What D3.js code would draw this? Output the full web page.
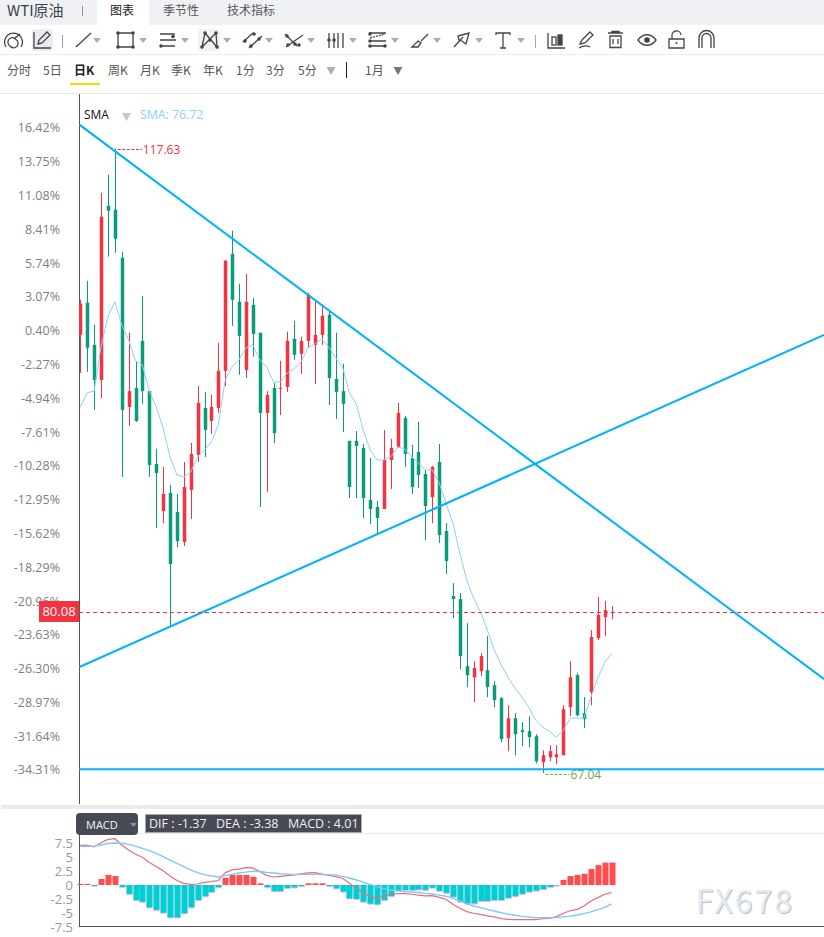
<!DOCTYPE html>
<html>
<head>
<meta charset="utf-8">
<script src="https://cdn.jsdelivr.net/npm/d3@7"></script>
<style>
  html, body { margin: 0; padding: 0; background: #fff; }
  svg { display: block; }
  text { font-family: "Noto Sans CJK SC", "Noto Sans", sans-serif; }
  .latin { font-family: "Open Sans", "Noto Sans", sans-serif; }
</style>
</head>
<body>
<svg id="chart" width="824" height="937"></svg>
<script>
// WTI daily candles (USD)
const opens = [102.54,105.14,101.73,98.89,113.00,112.68,108.79,96.70,98.24,102.05,
  97.98,92.08,88.27,89.73,88.19,85.76,89.97,92.81,96.62,95.57,
  96.62,99.62,109.11,105.22,99.70,104.97,102.71,96.22,98.24,98.16,
  98.32,102.22,101.00,102.05,101.73,102.54,104.16,98.97,97.98,93.95,
  93.95,93.38,89.16,88.59,88.43,92.40,93.46,95.81,92.57,93.05,
  91.27,89.40,92.24,86.64,81.38,81.13,75.70,74.80,75.29,75.37,
  74.16,73.10,69.86,71.48,70.51,70.43,70.02,67.91,68.32,68.32,
  68.48,72.37,74.97,71.89,73.59,77.97,79.67,80.00];
const highs = [105.38,106.92,103.35,114.06,115.52,117.63,109.27,102.71,100.43,105.70,
  98.00,93.30,91.84,90.38,89.65,92.24,93.78,98.40,97.92,97.68,
  101.89,108.62,110.98,106.68,107.49,105.54,102.71,97.98,98.65,100.43,
  102.79,103.68,102.38,105.95,105.30,104.97,104.57,102.71,100.19,93.95,
  94.75,93.70,92.57,89.08,94.84,94.11,97.03,95.97,93.62,95.49,
  91.59,91.92,93.70,87.29,82.43,81.62,79.18,76.10,76.75,78.13,
  74.48,73.19,72.53,71.89,71.16,71.64,70.18,68.88,69.29,69.29,
  72.53,76.10,75.13,73.19,78.62,81.29,80.97,80.56];
const lows = [99.46,99.54,96.46,97.43,108.87,109.19,91.03,95.16,95.49,96.95,
  91.03,86.89,87.29,78.86,85.35,85.43,87.62,92.24,92.65,94.51,
  96.22,98.40,103.27,99.30,99.05,100.76,88.59,89.81,93.78,96.05,
  97.92,100.51,99.38,101.49,98.57,101.73,96.86,95.73,94.67,89.32,
  89.32,87.70,87.21,86.40,88.43,90.05,93.38,91.84,89.65,90.13,
  85.92,87.29,85.68,83.16,79.59,75.45,74.00,72.78,74.89,73.19,
  72.37,69.53,68.80,68.48,69.21,69.13,67.83,67.04,67.99,67.75,
  68.48,71.64,71.64,70.67,72.53,77.81,78.13,79.51];
const closes = [105.06,101.49,98.89,112.11,112.60,110.33,96.46,97.98,95.57,97.98,
  92.00,91.35,89.65,83.97,85.84,90.21,92.89,97.03,94.84,96.70,
  99.62,108.54,105.38,102.46,105.22,102.62,96.22,97.67,94.59,98.24,
  102.05,100.92,102.05,105.79,102.54,104.08,99.05,97.92,96.95,90.21,
  93.54,89.32,88.43,87.70,92.40,93.38,96.22,92.89,90.21,91.19,
  88.67,91.84,86.32,84.21,81.13,76.51,74.97,75.54,76.51,74.00,
  72.94,69.78,71.48,70.18,70.35,69.94,67.99,68.48,68.80,68.56,
  72.21,74.80,71.72,71.40,78.05,79.84,80.24,80.08];
const sma = [96.70,97.84,97.98,101.57,104.00,105.22,103.35,102.13,100.43,100.11,
  97.98,96.70,95.00,92.65,91.19,91.03,91.43,92.65,93.22,93.86,
  95.24,98.89,99.95,100.51,101.49,101.73,100.51,99.95,98.73,98.73,
  99.46,99.78,100.35,101.49,101.81,102.22,101.57,100.68,99.95,97.84,
  96.95,94.84,93.22,92.40,92.40,92.65,93.46,93.30,92.65,92.16,
  91.59,91.59,90.54,88.92,87.29,84.86,82.67,81.21,80.08,78.62,
  77.00,75.78,74.80,73.91,73.19,72.37,71.32,70.75,70.43,69.94,
  70.51,71.48,71.48,71.48,73.19,74.72,76.01,76.72];

// MACD pane
const dif = [7.08,7.08,6.8,7.55,8.15,8.27,7.15,6.25,5.5,4.95,
  4.0,3.3,2.55,1.6,0.8,0.3,0.12,0.18,0.48,0.6,
  0.8,2.2,2.7,2.85,3.1,3.05,2.4,1.73,1.43,1.55,
  1.67,1.8,2.0,2.15,2.2,1.97,1.75,1.5,1.2,0.3,
  -0.6,-1.35,-2.1,-2.4,-2.0,-1.65,-1.55,-1.55,-1.65,-1.8,
  -1.95,-1.9,-2.2,-2.55,-3.45,-4.15,-4.75,-5.05,-5.25,-5.5,
  -5.7,-6.0,-6.15,-6.2,-6.2,-6.2,-6.2,-6.0,-5.95,-5.65,
  -5.05,-4.6,-4.35,-3.75,-2.85,-2.25,-1.65,-1.37];
const dea = [6.9,6.9,6.95,7.15,7.4,7.5,7.45,7.25,6.95,6.55,
  6.15,5.65,5.05,4.45,3.85,3.3,2.7,2.2,1.85,1.6,
  1.43,1.67,1.9,2.15,2.3,2.45,2.4,2.25,2.15,2.0,
  1.95,1.9,1.9,1.9,1.9,1.85,1.8,1.8,1.55,1.25,
  0.9,0.5,0.1,-0.3,-0.65,-0.9,-1.05,-1.2,-1.25,-1.35,
  -1.5,-1.6,-1.8,-2.0,-2.4,-2.85,-3.35,-3.75,-4.05,-4.35,
  -4.65,-4.95,-5.2,-5.4,-5.6,-5.7,-5.85,-5.85,-5.85,-5.8,
  -5.7,-5.55,-5.35,-5.1,-4.8,-4.4,-4.0,-3.38];
const macd = [0.2,0.2,-0.15,1.07,1.8,1.6,-0.35,-1.6,-2.7,-3.0,
  -4.0,-4.45,-4.95,-5.8,-5.8,-5.05,-4.0,-2.7,-2.0,-1.25,
  -0.4,1.3,1.8,1.8,1.8,1.45,0.3,-0.4,-1.1,-1.1,
  -0.55,-0.45,-0.2,0.3,0.3,0.3,-0.2,-0.6,-1.2,-2.4,
  -2.5,-3.0,-3.35,-3.45,-2.7,-2.0,-1.0,-0.9,-0.9,-0.8,
  -0.9,-0.5,-1.05,-1.4,-2.1,-3.0,-3.3,-3.3,-2.85,-2.85,
  -2.7,-2.7,-2.3,-2.0,-1.6,-1.2,-1.0,-0.75,-0.35,-0.1,
  0.9,1.6,1.8,2.0,2.85,3.55,4.0,4.01];

// Axis ticks and annotated prices
const percentTicks = [16.42,13.75,11.08,8.41,5.74,3.07,0.40,-2.27,-4.94,-7.61,-10.28,-12.95,-15.62,-18.29,-20.96,-23.63,-26.30,-28.97,-31.64,-34.31];
const macdTicks = [7.5,5,2.5,0,-2.5,-5,-7.5];
const macdTickLabels = ["7.5","5","2.5","0","-2.5","-5","-7.5"];
const referencePrice = 102.55;
const lastPrice = 80.08;
const peakPrice = 117.63;
const troughPrice = 67.04;
const smaLast = 76.72;
const peakIndex = 5;
const troughIndex = 67;

// Hand-drawn trend lines: [bar index, price] end points
const fallingLine = [[-0.14,119.57],[107.8,74.64]];
const risingLine = [[-0.14,75.62],[107.8,102.54]];
const supportLine = [[-0.14,67.34],[107.8,67.34]];

// Toolbar text
const tabNames = [["图表",110],["季节性",163],["技术指标",227]];
const periodNames = [["分时",7],["5日",43],["日K",74],["周K",108],["月K",140],["季K",171],["年K",203],["1分",236],["3分",266],["5分",298],["1月",365]];

const RED = "#f5323f", GREEN = "#0a9b78", BLUE = "#00b2ff", SMA_BLUE = "#8ccfff", GREY = "#808080";
const svg = d3.select("#chart");

const x = d3.scaleLinear().domain([0, 77]).range([80.3, 611.6]);
const y = d3.scaleLinear().domain([troughPrice, peakPrice]).range([773, 148.6]);
const yPct = d3.scaleLinear()
  .domain([(troughPrice / referencePrice - 1) * 100, (peakPrice / referencePrice - 1) * 100])
  .range(y.range());
const yMacd = d3.scaleLinear().domain([-7.5, 7.5]).range([927, 843]);

svg.append("defs").append("clipPath").attr("id", "plot")
  .append("rect").attr("x", 79).attr("y", 94).attr("width", 745).attr("height", 710);

/* ---------- header bars ---------- */
const head = svg.append("g");
head.append("rect").attr("width", 824).attr("height", 25).attr("fill", "#f0f1f5");
head.append("rect").attr("x", 97).attr("width", 52).attr("height", 25).attr("fill", "#fff");
head.append("text").attr("x", 7).attr("y", 16).attr("font-size", 15).attr("fill", "#3a4250").text("WTI原油");
head.append("rect").attr("x", 82).attr("y", 6).attr("width", 1).attr("height", 10).attr("fill", "#8a93a3");
head.selectAll("text.tab").data(tabNames).join("text").attr("class", "tab")
  .attr("x", d => d[1]).attr("y", 15).attr("font-size", 12)
  .attr("fill", (d, i) => i === 0 ? "#222" : "#555").text(d => d[0]);
head.append("rect").attr("y", 54).attr("width", 824).attr("height", 1).attr("fill", "#eeeeee");
head.append("rect").attr("y", 93).attr("width", 824).attr("height", 1).attr("fill", "#e8e8e8");

head.selectAll("text.period").data(periodNames).join("text").attr("class", "period")
  .attr("x", d => d[1]).attr("y", 75).attr("font-size", 12)
  .attr("font-weight", d => d[0] === "日K" ? 700 : 400)
  .attr("fill", d => d[0] === "日K" ? "#222" : "#555").text(d => d[0]);
head.append("rect").attr("x", 70).attr("y", 83).attr("width", 30).attr("height", 2).attr("fill", "#ffd700");
head.append("rect").attr("x", 346).attr("y", 62).attr("width", 1).attr("height", 16).attr("fill", "#222");

const caret = (cx, cy, w, h, fill) => head.append("path")
  .attr("d", `M${cx - w / 2},${cy}h${w}l${-w / 2},${h}z`).attr("fill", fill);
caret(331, 67, 9, 8, "#a8adbd");
caret(398, 67, 9, 8, "#6f7686");
[97, 143, 185, 227, 269, 311, 353, 395, 437, 479, 521].forEach(cx => caret(cx, 38, 8, 5, "#a8adb8"));

/* ---------- toolbar icons ---------- */
const icons = svg.append("g").attr("fill", "none").attr("stroke", "#444").attr("stroke-width", 1.3);
const ink = d => icons.append("path").attr("d", d);
const dot = (cx, cy, r = 1.8) => icons.append("circle").attr("cx", cx).attr("cy", cy).attr("r", r).attr("fill", "#444").attr("stroke", "none");

// gauge
ink("M6,47A9,9 0 1 1 21,47M10,46a4.5,4.5 0 1 0 6,-6.5a4.5,4.5 0 1 0 -6,6.5M15,38l5,-4");
// active pencil
icons.append("rect").attr("x", 32).attr("y", 29).attr("width", 21).attr("height", 22).attr("rx", 3).attr("fill", "#e8ebf2").attr("stroke", "none");
ink("M34,32v16h17M38,44l1,-4l8,-8l3,3l-8,8z");
icons.append("rect").attr("x", 62).attr("y", 35).attr("width", 1).attr("height", 13).attr("fill", "#b491c8").attr("stroke", "none");
// segment
ink("M76,47L91,33");
// rectangle
ink("M118,33h15v14h-15z");
[[118, 33], [133, 33], [118, 47], [133, 47]].forEach(p => dot(p[0], p[1]));
// horizontal channel
ink("M160,34h15M160,40h16M160,46h15"); dot(173, 36.5); dot(161, 46);
// pattern
icons.append("rect").attr("x", 198).attr("y", 29).attr("width", 22).attr("height", 22).attr("rx", 3).attr("fill", "#f2f2f2").attr("stroke", "none");
ink("M202,47L205,33L217,47L216,33L202,47");
[[202, 47], [205, 33], [216, 33], [210, 40], [217, 47]].forEach(p => dot(p[0], p[1]));
// parallel diagonals
ink("M243,42L253,33M249,48L262,36"); dot(245, 41); dot(254, 34); dot(251, 46); dot(259, 39);
// cross
ink("M285,34L297,46M286,47L303,35"); dot(287, 36); dot(295, 44); dot(288, 45); dot(299, 45);
// vertical channel
ink("M329,33v15M334,33v15M338,33v15M343,33v15"); dot(329, 40); dot(334, 40);
// horizontal fan
ink("M369,33h17M369,41h17M369,46h17");
icons.append("path").attr("d", "M370,38L385,34").attr("stroke-dasharray", "2 1");
dot(370, 34); dot(370, 41); dot(370, 46); dot(385, 46);
// brush
ink("M412,47L418,41L421,43L418,47zM421,41L428,34");
// arrow
ink("M454,47L463,37M458,36L469,33L466,44L462,41L459,40z");
// text tool
ink("M496,35v-2h14v2M503,33v15M500,48h6");
icons.append("rect").attr("x", 535).attr("y", 35).attr("width", 1).attr("height", 13).attr("fill", "#8fb0c4").attr("stroke", "none");
// candle tool
ink("M548,33v15h17");
icons.append("rect").attr("x", 552).attr("y", 37).attr("width", 4).attr("height", 8);
icons.append("rect").attr("x", 558).attr("y", 35).attr("width", 4).attr("height", 10).attr("fill", "#444");
// drawing pencil
ink("M580,44l2,-4l8,-8l3,3l-8,8zM579,48c5,-3 9,-2 11,-1");
// trash
ink("M608,33h15M612,33v-1.5h7v1.5M610,36h11v11.5h-11zM613,39v5M618,39v5");
// eye
ink("M638,40c5,-7 13,-7 18,0c-5,7 -13,7 -18,0z"); dot(647, 40, 2.8);
// open padlock
ink("M669,39h15v9h-15zM672,39v-3a4.5,4.5 0 0 1 9,-1"); dot(676.5, 43, 1);
// magnet
ink("M699,48V38a7,7 0 0 1 15,0V48M702,48V38a4,4 0 0 1 9,0V48");

/* ---------- price pane ---------- */
svg.append("line").attr("x1", 79.5).attr("x2", 79.5).attr("y1", 94).attr("y2", 804).attr("stroke", "#555");

svg.append("g").attr("transform", "translate(60,1)")
  .call(d3.axisLeft(yPct).tickValues(percentTicks).tickSize(0).tickPadding(0).tickFormat(d => d.toFixed(2) + "%"))
  .call(g => g.select(".domain").remove())
  .call(g => g.selectAll("text").attr("class", "latin").attr("font-size", 12.5).attr("fill", GREY)
    .style("font-family", '"Open Sans", sans-serif'));

const plot = svg.append("g").attr("clip-path", "url(#plot)");
const bars = d3.range(closes.length);
const barColor = i => closes[i] >= opens[i] ? RED : GREEN;

plot.selectAll("rect.wick").data(bars).join("rect").attr("class", "wick")
  .attr("x", i => Math.round(x(i))).attr("width", 1)
  .attr("y", i => y(highs[i])).attr("height", i => y(lows[i]) - y(highs[i]))
  .attr("fill", barColor);
plot.selectAll("rect.body").data(bars).join("rect").attr("class", "body")
  .attr("x", i => Math.round(x(i)) - 1.25).attr("width", 3.5)
  .attr("y", i => y(Math.max(opens[i], closes[i])))
  .attr("height", i => Math.max(1, Math.abs(y(opens[i]) - y(closes[i]))))
  .attr("fill", barColor);

const smaPath = d3.line().x((d, i) => x(i)).y(d => y(d));
plot.append("path").attr("d", smaPath(sma)).attr("fill", "none").attr("stroke", SMA_BLUE).attr("stroke-width", 1);

const trendPath = d3.line().x(d => x(d[0])).y(d => y(d[1]));
[fallingLine, risingLine, supportLine].forEach(seg => {
  plot.append("path").attr("d", trendPath(seg)).attr("fill", "none").attr("stroke", BLUE).attr("stroke-width", 2.1);
});

// last price marker
const lastY = Math.round(y(lastPrice)) + 0.5;
plot.append("line").attr("x1", 79).attr("x2", 824).attr("y1", lastY).attr("y2", lastY)
  .attr("stroke", RED).attr("stroke-dasharray", "4 3");
svg.append("rect").attr("x", 39).attr("y", lastY - 11.5).attr("width", 40).attr("height", 21).attr("fill", RED);
svg.append("text").attr("class", "latin").attr("x", 59).attr("y", lastY + 3.5).attr("text-anchor", "middle")
  .attr("font-size", 13).attr("fill", "#fff").text(lastPrice.toFixed(2));

// extreme price callouts
const callout = (i, price, color, yOff) => {
  const cy = Math.round(y(price)) + 0.5 + yOff;
  svg.append("line").attr("x1", x(i) + 3).attr("x2", x(i) + 27).attr("y1", cy).attr("y2", cy)
    .attr("stroke", color).attr("stroke-dasharray", "3 1.5");
  svg.append("text").attr("class", "latin").attr("x", x(i) + 28).attr("y", cy + 4)
    .attr("font-size", 12).attr("fill", color).text(price.toFixed(2));
};
callout(peakIndex, peakPrice, RED, 0);
callout(troughIndex, troughPrice, "#6aa84f", 1);

svg.append("text").attr("class", "latin").attr("x", 84).attr("y", 119).attr("font-size", 12).attr("fill", "#111").text("SMA");
svg.append("path").attr("d", "M122,113h9l-4.5,8z").attr("fill", "#c3c7d3");
svg.append("text").attr("class", "latin").attr("x", 140).attr("y", 119).attr("font-size", 12.3).attr("fill", SMA_BLUE).text("SMA: " + smaLast.toFixed(2));

/* ---------- MACD pane ---------- */
svg.append("rect").attr("x", 1).attr("y", 805).attr("width", 823).attr("height", 4).attr("fill", "#ebebeb");
svg.append("line").attr("x1", 79).attr("x2", 824).attr("y1", 833.5).attr("y2", 833.5).attr("stroke", "#ececec");
svg.append("line").attr("x1", 79.5).attr("x2", 79.5).attr("y1", 834).attr("y2", 926).attr("stroke", "#555");
svg.append("line").attr("x1", 79).attr("x2", 824).attr("y1", 926.5).attr("y2", 926.5).attr("stroke", "#555");

svg.append("g").attr("transform", "translate(73,0)")
  .call(d3.axisLeft(yMacd).tickValues(macdTicks).tickSize(0).tickPadding(0).tickFormat((d, i) => macdTickLabels[i]))
  .call(g => g.select(".domain").remove())
  .call(g => g.selectAll("text").attr("font-size", 13).attr("fill", "#999")
    .style("font-family", '"Open Sans", sans-serif'));

const macdBars = svg.append("g");
// faint pink edge under the falling columns
macdBars.selectAll("rect.edge").data(bars.filter(i => macd[i] < 0)).join("rect").attr("class", "edge")
  .attr("x", i => Math.round(x(i)) - 2.5).attr("width", 6)
  .attr("y", yMacd(0)).attr("height", i => yMacd(macd[i]) - yMacd(0) + 1)
  .attr("fill", "#f3b5ee");
macdBars.selectAll("rect.bar").data(bars).join("rect").attr("class", "bar")
  .attr("x", i => Math.round(x(i)) - 2.5).attr("width", 6)
  .attr("y", i => Math.min(yMacd(macd[i]), yMacd(0)))
  .attr("height", i => Math.abs(yMacd(macd[i]) - yMacd(0)))
  .attr("fill", i => macd[i] >= 0 ? "#ff4d4d" : "#00ced1");

const macdPath = d3.line().x((d, i) => x(i)).y(d => yMacd(d));
svg.append("path").attr("d", macdPath(dif)).attr("fill", "none").attr("stroke", "#ef6a75").attr("stroke-width", 1.2);
svg.append("path").attr("d", macdPath(dea)).attr("fill", "none").attr("stroke", "#7cc8ff").attr("stroke-width", 1.4);

svg.append("rect").attr("x", 76).attr("y", 813).attr("width", 62).attr("height", 22).attr("rx", 4).attr("fill", "#474a55");
svg.append("text").attr("class", "latin").attr("x", 86).attr("y", 829).attr("font-size", 11).attr("fill", "#f4f4f4").text("MACD");
svg.append("path").attr("d", "M130,823h7l-3.5,4z").attr("fill", "#8c8f99");
svg.append("rect").attr("x", 145.5).attr("y", 814.5).attr("width", 216).attr("height", 18).attr("fill", "#474a55").attr("stroke", "#a5a7ad");
const readouts = [["DIF : " + dif[77].toFixed(2), 149], ["DEA : " + dea[77].toFixed(2), 216], ["MACD : " + macd[77].toFixed(2), 288]];
svg.selectAll("text.readout").data(readouts).join("text").attr("class", "readout latin")
  .attr("x", d => d[1]).attr("y", 828).attr("font-size", 12.5).attr("fill", "#f0f0f0").text(d => d[0]);

/* ---------- site mark ---------- */
const mark = svg.append("g").style("font-family", '"Liberation Sans", sans-serif').attr("font-size", 32).attr("letter-spacing", 2);
mark.append("text").attr("x", 696.5).attr("y", 914).attr("fill", "#c9bdb0").text("FX678");
mark.append("text").attr("x", 695.5).attr("y", 913).attr("fill", "#e0ebf8").text("FX678");
</script>
</body>
</html>
